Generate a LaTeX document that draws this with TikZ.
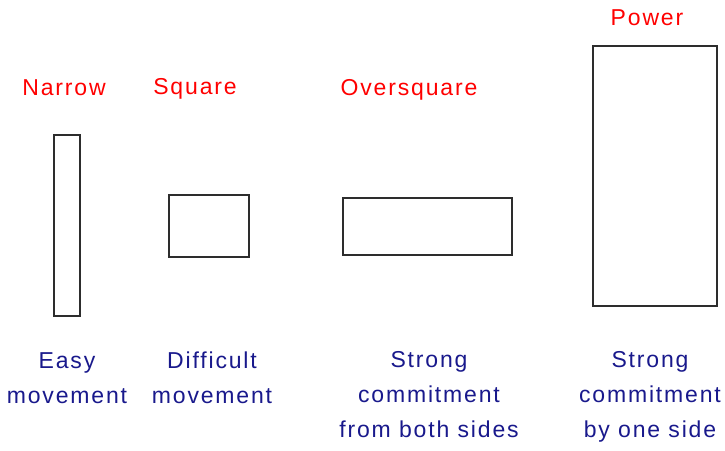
\documentclass[tikz,border=0pt]{standalone}
\usepackage{fontspec}
\setmainfont[LetterSpace=8]{Liberation Sans}
\definecolor{lblred}{RGB}{255,0,0}
\definecolor{lblblue}{RGB}{25,25,140}
\definecolor{boxgray}{RGB}{45,45,45}
\begin{document}
\begin{tikzpicture}[x=1pt,y=-1pt,
  shapebox/.style={draw=boxgray,line width=2pt,inner sep=0pt,fill=white},
  title/.style={text=lblred,font=\fontsize{23}{35}\selectfont,inner sep=0pt,anchor=base},
  caption/.style={text=lblblue,font=\fontsize{23}{35}\selectfont,inner sep=0pt,anchor=base,align=center}]
\useasboundingbox[fill=white] (0,0) rectangle (725,450);
% shapes
\node[shapebox,minimum width=26pt,minimum height=181pt] (narrow) at (67,225.5) {};
\node[shapebox,minimum width=80pt,minimum height=62pt] (square) at (209,226) {};
\node[shapebox,minimum width=169pt,minimum height=57pt] (over) at (427.5,226.5) {};
\node[shapebox,minimum width=124pt,minimum height=260pt] (power) at (655,176) {};
% titles
\node[title] (tnarrow) at (64,95) {Narrow};
\node[title] (tsquare) at (195,94) {Square};
\node[title] (tover) at (409,95) {Oversquare};
\node[title] (tpower) at (647,25) {Power};
% captions (base anchor = baseline of last line)
\node[caption] (cnarrow) at (67,403) {Easy\\movement};
\node[caption] (csquare) at (212,403) {Difficult\\movement};
\node[caption] (cover) at (429,437) {Strong\\commitment\\from both sides};
\node[caption] (cpower) at (650,437) {Strong\\commitment\\by one side};
\end{tikzpicture}
\end{document}
